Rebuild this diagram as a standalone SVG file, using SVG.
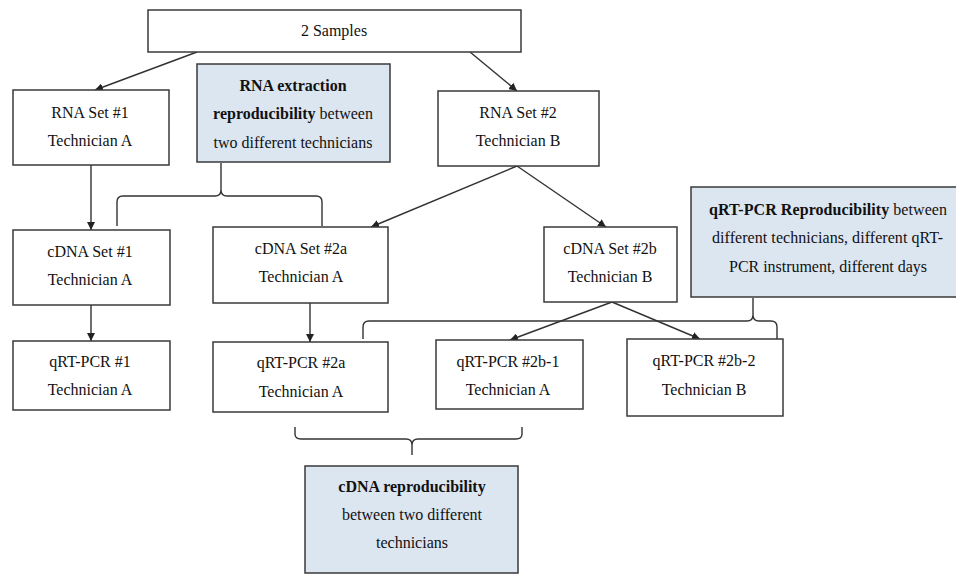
<svg xmlns="http://www.w3.org/2000/svg" width="956" height="577" viewBox="0 0 956 577">
<style>
.box{fill:#ffffff;stroke:#3a3a3a;stroke-width:1.5}
.note{fill:#dce6f1;stroke:#3a3a3a;stroke-width:1.5}
.t{font-family:"Liberation Serif","Times New Roman",serif;font-size:16px;fill:#111;text-anchor:middle}
.ts{font-family:"Liberation Serif","Times New Roman",serif;font-size:16px;fill:#111}
.b{font-weight:bold}
.ln{fill:none;stroke:#333;stroke-width:1.4}
.ar{fill:none;stroke:#333;stroke-width:1.4;marker-end:url(#ah)}
</style>
<defs>
<marker id="ah" viewBox="0 0 10 10" refX="10" refY="5" markerWidth="8" markerHeight="8" markerUnits="userSpaceOnUse" orient="auto">
<path d="M0,0 L10,5 L0,10 Z" fill="#222"/>
</marker>
</defs>
<rect width="956" height="577" fill="#ffffff"/>

<g id="connectors">
<line class="ar" x1="197" y1="52" x2="95" y2="90"/>
<line class="ar" x1="470" y1="52" x2="517" y2="91"/>
<line class="ar" x1="91" y1="165" x2="91" y2="230"/>
<line class="ar" x1="91" y1="305" x2="91" y2="341"/>
<line class="ar" x1="517" y1="166" x2="371" y2="227"/>
<line class="ar" x1="517" y1="166" x2="606" y2="227"/>
<line class="ar" x1="310" y1="293" x2="310" y2="342"/>
<line class="ar" x1="612" y1="302" x2="510" y2="340"/>
<line class="ar" x1="612" y1="302" x2="700" y2="339"/>
<path class="ln" d="M117,226 L117,202 Q117,196 123,196 L215,196 Q221,196 221,190 L221,163 M221,190 Q221,196 227,196 L316,196 Q322,196 322,202 L322,226"/>
<path class="ln" d="M363,339 L363,327 Q363,321 369,321 L747,321 Q753,321 753,315 L753,298 M753,315 Q753,321 759,321 L771,321 Q777,321 777,327 L777,339"/>
<path class="ln" d="M295,427 L295,434 Q295,439 301,439 L406,439 Q412,439 412,445 L412,455 M412,445 Q412,439 418,439 L516,439 Q522,439 522,434 L522,427"/>
</g>

<g id="samples">
<rect class="box" x="148" y="10" width="373" height="42"/>
<text class="t" x="334" y="36">2 Samples</text>
</g>

<g id="rna1">
<rect class="box" x="13" y="90" width="156" height="75"/>
<text class="t" x="90" y="118">RNA Set #1</text>
<text class="t" x="90" y="146">Technician  A</text>
</g>

<g id="note-rna">
<rect class="note" x="197" y="64" width="193" height="98"/>
<text class="t" x="293" y="91"><tspan class="b">RNA extraction</tspan></text>
<text class="t" x="293" y="119"><tspan class="b">reproducibility</tspan>  between</text>
<text class="t" x="293" y="148">two different  technicians</text>
</g>

<g id="rna2">
<rect class="box" x="438" y="91" width="161" height="75"/>
<text class="t" x="518" y="118">RNA Set #2</text>
<text class="t" x="518" y="146">Technician  B</text>
</g>

<g id="cdna1">
<rect class="box" x="13" y="230" width="157" height="75"/>
<text class="t" x="90" y="257">cDNA Set #1</text>
<text class="t" x="90" y="285">Technician  A</text>
</g>

<g id="cdna2a">
<rect class="box" x="213" y="227" width="175" height="76"/>
<text class="t" x="301" y="254">cDNA Set #2a</text>
<text class="t" x="301" y="282">Technician  A</text>
</g>

<g id="cdna2b">
<rect class="box" x="544" y="227" width="133" height="75"/>
<text class="t" x="610" y="254">cDNA Set #2b</text>
<text class="t" x="610" y="282">Technician  B</text>
</g>

<g id="note-qrt">
<rect class="note" x="691" y="187" width="275" height="110"/>
<text class="ts" x="709" y="215" textLength="238" lengthAdjust="spacing"><tspan class="b">qRT-PCR Reproducibility</tspan> between</text>
<text class="ts" x="712" y="243" textLength="231" lengthAdjust="spacing">different technicians, different qRT-</text>
<text class="ts" x="729" y="272" textLength="198" lengthAdjust="spacing">PCR instrument, different days</text>
</g>

<g id="qrt1">
<rect class="box" x="13" y="341" width="157" height="69"/>
<text class="t" x="90" y="367">qRT-PCR #1</text>
<text class="t" x="90" y="395">Technician  A</text>
</g>

<g id="qrt2a">
<rect class="box" x="213" y="342" width="175" height="70"/>
<text class="t" x="301" y="368">qRT-PCR #2a</text>
<text class="t" x="301" y="397">Technician  A</text>
</g>

<g id="qrt2b1">
<rect class="box" x="436" y="340" width="147" height="69"/>
<text class="t" x="508" y="367">qRT-PCR #2b-1</text>
<text class="t" x="508" y="395">Technician  A</text>
</g>

<g id="qrt2b2">
<rect class="box" x="627" y="339" width="156" height="77"/>
<text class="t" x="704" y="366">qRT-PCR #2b-2</text>
<text class="t" x="704" y="395">Technician  B</text>
</g>

<g id="note-cdna">
<rect class="note" x="305" y="466" width="213" height="107"/>
<text class="t" x="412" y="492"><tspan class="b">cDNA reproducibility</tspan></text>
<text class="t" x="412" y="520">between two different</text>
<text class="t" x="412" y="548">technicians</text>
</g>
</svg>
